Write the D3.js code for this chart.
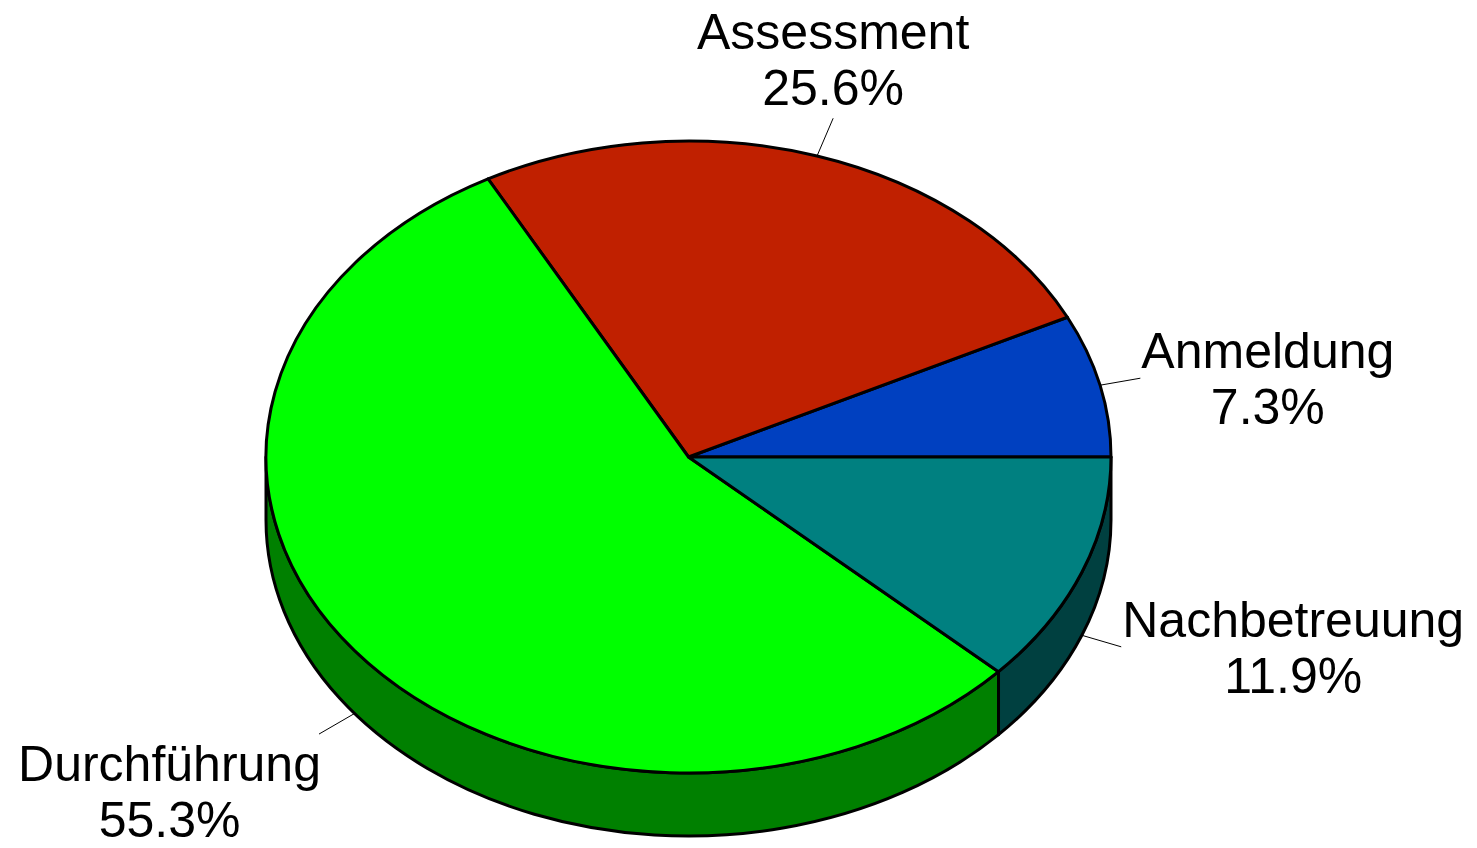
<!DOCTYPE html>
<html><head><meta charset="utf-8">
<script src="https://cdn.jsdelivr.net/npm/d3@7"></script>
<style>html,body{margin:0;padding:0;background:#fff;}svg{display:block;}</style>
</head><body>
<svg id="c" width="1477" height="848"></svg>
<script>
const categories = ["Anmeldung", "Assessment", "Durchführung", "Nachbetreuung"];
const values = [7.3, 25.6, 55.3, 11.9];
const labels = ["7.3%", "25.6%", "55.3%", "11.9%"];
const topColors = ["#0040C0", "#C02000", "#00FF00", "#008080"];
const sideColors = ["#002060", "#601000", "#008000", "#004040"];

const W = 1477, H = 848;
const cx = 688.5, cy = 457, rx = 422.5, ry = 316, depth = 63;
const svg = d3.select("#c");

const pie = d3.pie().sort(null).startAngle(0).endAngle(2 * Math.PI);
const arcs = pie(values);

const P = (t, dy = 0) => [cx + rx * Math.cos(t), cy - ry * Math.sin(t) + dy];

// sides (front half: angles pi..2pi)
const sideG = svg.append("g");
arcs.forEach((d, i) => {
  const a = Math.max(d.startAngle, Math.PI), b = Math.min(d.endAngle, 2 * Math.PI);
  if (b <= a) return;
  const p1 = P(a), p2 = P(b), p3 = P(b, depth), p4 = P(a, depth);
  const path = `M${p1} A${rx},${ry} 0 0 0 ${p2} L${p3} A${rx},${ry} 0 0 1 ${p4} Z`;
  sideG.append("path").attr("d", path).attr("fill", sideColors[i])
    .attr("stroke", "#000").attr("stroke-width", 3).attr("stroke-linejoin", "round");
});

// top
const topG = svg.append("g");
arcs.forEach((d, i) => {
  const a = d.startAngle, b = d.endAngle;
  const large = (b - a) > Math.PI ? 1 : 0;
  const path = `M${cx},${cy} L${P(a)} A${rx},${ry} 0 ${large} 0 ${P(b)} Z`;
  topG.append("path").attr("d", path).attr("fill", topColors[i])
    .attr("stroke", "#000").attr("stroke-width", 3).attr("stroke-linejoin", "round");
});

// labels
const fs = 50, lh = 56;
const labG = svg.append("g").attr("font-family", "'Liberation Sans', Arial, sans-serif")
  .attr("font-size", fs).attr("fill", "#000");
arcs.forEach((d, i) => {
  const m = (d.startAngle + d.endAngle) / 2;
  const c = Math.cos(m), s = Math.sin(m);
  const dy0 = s < 0 ? depth : 0;
  const start = P(m, dy0);
  let vx = rx * c, vy = -ry * s;
  const len = Math.hypot(vx, vy);
  vx = vx / len * 41; vy = vy / len * 41;
  const end = [start[0] + vx, start[1] + vy];
  svg.append("line").attr("x1", start[0]).attr("y1", start[1]).attr("x2", end[0]).attr("y2", end[1])
    .attr("stroke", "#000").attr("stroke-width", 1);

  const g = labG.append("g");
  const t1 = g.append("text").attr("text-anchor", "middle").text(categories[i]);
  const t2 = g.append("text").attr("text-anchor", "middle").text(labels[i]);
  const w = Math.max(t1.node().getComputedTextLength(), t2.node().getComputedTextLength());
  let xc, b1;
  if (Math.abs(c) < 0.5) {
    xc = end[0];
    if (s > 0) b1 = end[1] - 13 - lh; else b1 = end[1] + 48;
  } else {
    xc = c > 0 ? end[0] + 1 + w / 2 : end[0] + 2 - w / 2;
    if (Math.abs(s) < 0.5) b1 = end[1] - 10;
    else if (s > 0) b1 = end[1] - 13 - lh;
    else b1 = end[1] + 47;
  }
  t1.attr("x", xc).attr("y", b1);
  t2.attr("x", xc).attr("y", b1 + lh);
});
</script>
</body></html>
